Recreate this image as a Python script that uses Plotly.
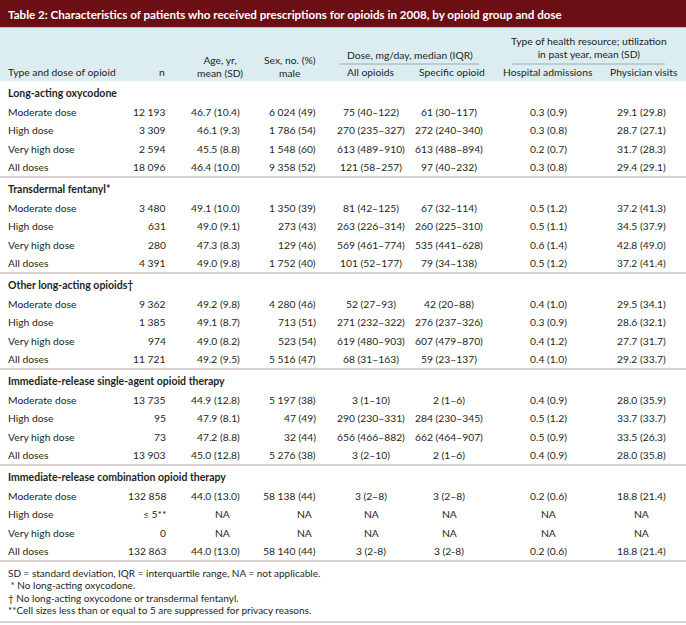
import plotly.graph_objects as go

# ---------------- data ----------------
title_text = "Table 2: Characteristics of patients who received prescriptions for opioids in 2008, by opioid group and dose"

groups = [
    "Long-acting oxycodone",
    "Transdermal fentanyl*",
    "Other long-acting opioids\u2020",
    "Immediate-release single-agent opioid therapy",
    "Immediate-release combination opioid therapy",
]
dose_levels = ["Moderate dose", "High dose", "Very high dose", "All doses"]

n_vals = [
    ["12 193", "3 309", "2 594", "18 096"],
    ["3 480", "631", "280", "4 391"],
    ["9 362", "1 385", "974", "11 721"],
    ["13 735", "95", "73", "13 903"],
    ["132 858", "\u2264 5**", "0", "132 863"],
]
age_vals = [
    ["46.7 (10.4)", "46.1 (9.3)", "45.5 (8.8)", "46.4 (10.0)"],
    ["49.1 (10.0)", "49.0 (9.1)", "47.3 (8.3)", "49.0 (9.8)"],
    ["49.2 (9.8)", "49.1 (8.7)", "49.0 (8.2)", "49.2 (9.5)"],
    ["44.9 (12.8)", "47.9 (8.1)", "47.2 (8.8)", "45.0 (12.8)"],
    ["44.0 (13.0)", "NA", "NA", "44.0 (13.0)"],
]
sex_vals = [
    ["6 024 (49)", "1 786 (54)", "1 548 (60)", "9 358 (52)"],
    ["1 350 (39)", "273 (43)", "129 (46)", "1 752 (40)"],
    ["4 280 (46)", "713 (51)", "523 (54)", "5 516 (47)"],
    ["5 197 (38)", "47 (49)", "32 (44)", "5 276 (38)"],
    ["58 138 (44)", "NA", "NA", "58 140 (44)"],
]
dose_all_vals = [
    ["75 (40\u2013122)", "270 (235\u2013327)", "613 (489\u2013910)", "121 (58\u2013257)"],
    ["81 (42\u2013125)", "263 (226\u2013314)", "569 (461\u2013774)", "101 (52\u2013177)"],
    ["52 (27\u201393)", "271 (232\u2013322)", "619 (480\u2013903)", "68 (31\u2013163)"],
    ["3 (1\u201310)", "290 (230\u2013331)", "656 (466\u2013882)", "3 (2\u201310)"],
    ["3 (2\u20138)", "NA", "NA", "3 (2-8)"],
]
dose_spec_vals = [
    ["61 (30\u2013117)", "272 (240\u2013340)", "613 (488\u2013894)", "97 (40\u2013232)"],
    ["67 (32\u2013114)", "260 (225\u2013310)", "535 (441\u2013628)", "79 (34\u2013138)"],
    ["42 (20\u201388)", "276 (237\u2013326)", "607 (479\u2013870)", "59 (23\u2013137)"],
    ["2 (1\u20136)", "284 (230\u2013345)", "662 (464\u2013907)", "2 (1\u20136)"],
    ["3 (2\u20138)", "NA", "NA", "3 (2-8)"],
]
hosp_vals = [
    ["0.3 (0.9)", "0.3 (0.8)", "0.2 (0.7)", "0.3 (0.8)"],
    ["0.5 (1.2)", "0.5 (1.1)", "0.6 (1.4)", "0.5 (1.2)"],
    ["0.4 (1.0)", "0.3 (0.9)", "0.4 (1.2)", "0.4 (1.0)"],
    ["0.4 (0.9)", "0.5 (1.2)", "0.5 (0.9)", "0.4 (0.9)"],
    ["0.2 (0.6)", "NA", "NA", "0.2 (0.6)"],
]
phys_vals = [
    ["29.1 (29.8)", "28.7 (27.1)", "31.7 (28.3)", "29.4 (29.1)"],
    ["37.2 (41.3)", "34.5 (37.9)", "42.8 (49.0)", "37.2 (41.4)"],
    ["29.5 (34.1)", "28.6 (32.1)", "27.7 (31.7)", "29.2 (33.7)"],
    ["28.0 (35.9)", "33.7 (33.7)", "33.5 (26.3)", "28.0 (35.8)"],
    ["18.8 (21.4)", "NA", "NA", "18.8 (21.4)"],
]

col_headers = ["Type and dose of opioid", "n", "Age, yr,<br>mean (SD)", "Sex, no. (%)<br>male",
               "All opioids", "Specific opioid", "Hospital admissions", "Physician visits"]
span_headers = ["Dose, mg/day, median (IQR)", "Type of health resource; utilization<br>in past year, mean (SD)"]

footnotes = [
    "SD = standard deviation, IQR = interquartile range, NA = not applicable.",
    " * No long-acting oxycodone.",
    "\u2020 No long-acting oxycodone or transdermal fentanyl.",
    "**Cell sizes less than or equal to 5 are suppressed for privacy reasons.",
]

# ---------------- layout / style ----------------
W, H = 686, 625
FONT = "Lato"
FS = 10.3
TXT = "#231f20"
TITLE_BG = "#6b0f14"
HEAD_BG = "#dcedf1"
RULE = "#bba3a0"

# columns: (x, anchor)
cols = [
    (6, "left"),      # label
    (168, "right"),   # n
    (242, "right"),   # age
    (318, "right"),   # sex
    (371, "center"),  # dose all
    (449, "center"),  # dose specific
    (548, "center"),  # hospital
    (641, "center"),  # physician
]
na_center = {2: 222, 3: 304}

fig = go.Figure()
fig.add_trace(go.Scatter(x=[0, W], y=[0, H], mode="markers", marker=dict(opacity=0), hoverinfo="skip",
                         showlegend=False))

shapes = []
ann = []

def text(x, y, s, anchor="left", bold=False, size=FS, color=TXT):
    ann.append(dict(x=x, y=y, xref="x", yref="y", text=("<b>%s</b>" % s) if bold else s,
                    showarrow=False, xanchor=anchor, yanchor="middle", align=anchor,
                    font=dict(family=FONT, size=size, color=color)))

# title bar
shapes.append(dict(type="rect", x0=0, x1=W, y0=0, y1=27.5, fillcolor=TITLE_BG, line=dict(width=0), layer="below"))
text(6, 14, title_text, "left", bold=True, size=11.6, color="white")

# header band
shapes.append(dict(type="rect", x0=0, x1=W, y0=27.5, y1=81, fillcolor=HEAD_BG, line=dict(width=0), layer="below"))

# header texts
text(cols[0][0], 72, col_headers[0], "left")
text(162, 72, col_headers[1], "center")
text(220, 66.5, col_headers[2], "center")
text(290, 66.5, col_headers[3], "center")
text(371, 72, col_headers[4], "center")
text(452, 72, col_headers[5], "center")
text(548, 72, col_headers[6], "center")
text(644, 72, col_headers[7], "center")
text(410, 54.5, span_headers[0], "center")
text(589, 47.5, span_headers[1], "center")
shapes.append(dict(type="line", x0=339, x1=479, y0=64, y1=64, line=dict(color="#8d9a9e", width=0.8)))
shapes.append(dict(type="line", x0=512, x1=665, y0=64, y1=64, line=dict(color="#8d9a9e", width=0.8)))

# body
value_cols = [n_vals, age_vals, sex_vals, dose_all_vals, dose_spec_vals, hosp_vals, phys_vals]
GROUP_H = 96
for g, gname in enumerate(groups):
    y0 = 93 + g * GROUP_H
    text(cols[0][0], y0, gname, "left", bold=True, size=10.5)
    for i, lvl in enumerate(dose_levels):
        y = y0 + 18.5 * (i + 1)
        text(cols[0][0], y, lvl, "left")
        for c, arr in enumerate(value_cols):
            v = arr[g][i]
            x, anc = cols[c + 1]
            if v == "NA" and (c + 1) in na_center:
                x, anc = na_center[c + 1], "center"
            text(x, y, v, anc)
    ly = y0 + 84
    shapes.append(dict(type="line", x0=0, x1=W, y0=ly, y1=ly, line=dict(color=RULE, width=1.2)))

# footnotes
for k, f in enumerate(footnotes):
    s = ("&nbsp;" + f[1:]) if f.startswith(" ") else f
    text(6, 573 + 12.4 * k, s, "left", size=10)
shapes.append(dict(type="line", x0=0, x1=W, y0=622, y1=622, line=dict(color=RULE, width=1.2)))

fig.update_layout(
    width=W, height=H, margin=dict(l=0, r=0, t=0, b=0),
    paper_bgcolor="white", plot_bgcolor="white",
    xaxis=dict(range=[0, W], visible=False, fixedrange=True),
    yaxis=dict(range=[H, 0], visible=False, fixedrange=True),
    shapes=shapes, annotations=ann, showlegend=False,
)
fig.write_html("out.html", config={"displayModeBar": False},
               post_script="document.body.style.margin='0';document.body.style.overflow='hidden';")
